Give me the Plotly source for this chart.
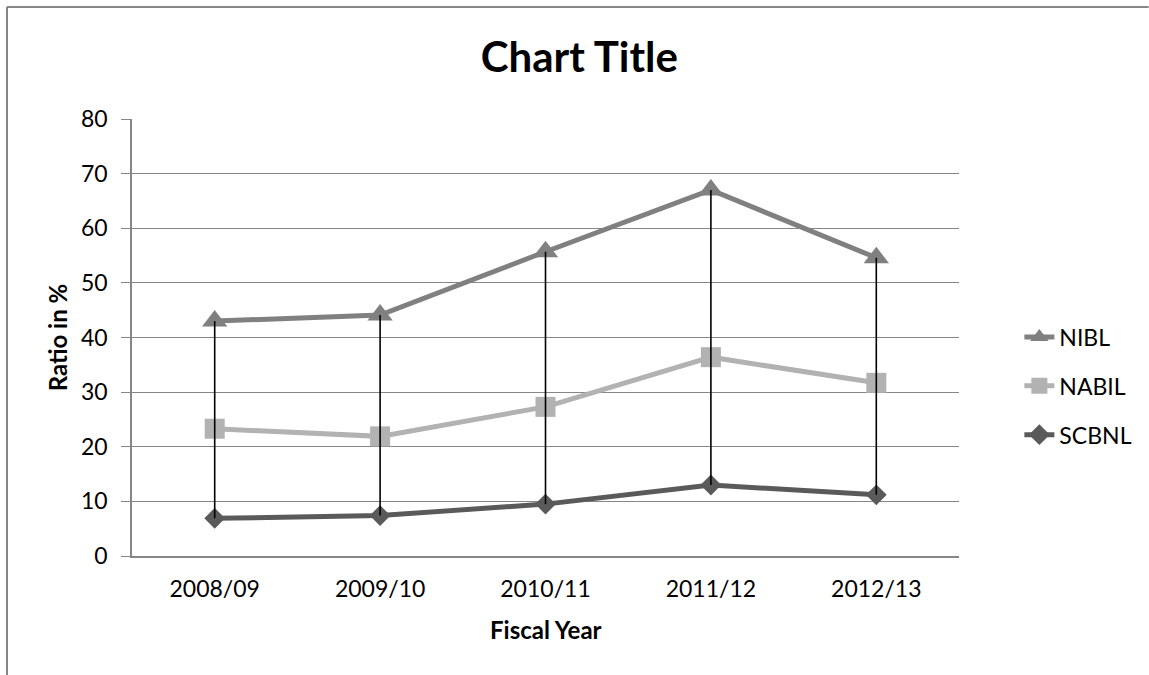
import plotly.graph_objects as go

years = ["2008/09", "2009/10", "2010/11", "2011/12", "2012/13"]
nibl = [43.0, 44.1, 55.7, 67.0, 54.6]
nabil = [23.3, 21.9, 27.3, 36.4, 31.7]
scbnl = [6.9, 7.4, 9.5, 13.0, 11.2]

W, H = 1149, 675
L, R, T, B = 131.7, 963.3, 118.7, 556.3
pw, ph = R - L, B - T
FONT = "Lato"
GRID = "#868686"

def px_x(x):
    return (x - L) / pw

def px_y(y):
    return (B - y) / ph

fig = go.Figure()

series = [
    ("NIBL", nibl, "#808080", "triangle-up", 22),
    ("NABIL", nabil, "#b2b2b2", "square", 20),
    ("SCBNL", scbnl, "#5a5a5a", "diamond", 16),
]
for name, vals, col, sym, sz in series:
    fig.add_trace(go.Scatter(
        x=years, y=vals, name=name, legendgroup=name,
        mode="lines+markers",
        line=dict(color=col, width=5),
        marker=dict(symbol=sym, size=sz, color=col, line=dict(width=0)),
    ))

# high-low lines
hx, hy = [], []
for i, yr in enumerate(years):
    hx += [yr, yr, None]
    hy += [nibl[i], scbnl[i], None]
fig.add_trace(go.Scatter(x=hx, y=hy, mode="lines", showlegend=False,
                         line=dict(color="black", width=1.6), hoverinfo="skip"))

fig.update_layout(
    width=W, height=H,
    margin=dict(l=L, r=W - R, t=T, b=H - B, pad=0),
    paper_bgcolor="white", plot_bgcolor="white",
    font=dict(family=FONT, color="black", size=23),
    title=dict(text="<b>Chart Title</b>", x=px_x(581.5), xref="paper",
               xanchor="center", y=1 - 57 / H, yref="container", yanchor="middle",
               font=dict(family=FONT, size=42, color="black")),
    showlegend=True,
    legend=dict(x=px_x(1024), xanchor="left", y=px_y(386), yanchor="middle",
                font=dict(family=FONT, size=23, color="black"),
                tracegroupgap=16, bgcolor="rgba(0,0,0,0)", itemwidth=30),
)

fig.update_xaxes(
    type="category", range=[-0.5, 4.5], showline=True, linecolor=GRID, linewidth=1.5,
    showgrid=False, ticks="", ticklabelstandoff=12,
    tickfont=dict(family=FONT, size=23, color="black"),
    zeroline=False, fixedrange=True,
)
fig.update_yaxes(
    range=[0, 80], dtick=10, tick0=0, showline=True, linecolor=GRID, linewidth=1.5,
    showgrid=True, gridcolor=GRID, gridwidth=1.3, ticks="outside", ticklen=9,
    tickcolor=GRID, tickwidth=1.3, ticklabelstandoff=9,
    tickfont=dict(family=FONT, size=23, color="black"), zeroline=False, fixedrange=True,
)

# axis titles
fig.add_annotation(text="<b>Ratio in %</b>", textangle=-90, xref="paper", yref="paper",
                   x=px_x(57), y=px_y(337.5), xanchor="center", yanchor="middle",
                   showarrow=False, font=dict(family=FONT, size=24, color="black"))
fig.add_annotation(text="<b>Fiscal Year</b>", xref="paper", yref="paper",
                   x=0.5, y=px_y(630), xanchor="center", yanchor="middle",
                   showarrow=False, font=dict(family=FONT, size=24, color="black"))

# chart area border (top and left visible)
bx0, by0 = px_x(6), px_y(6.5)
fig.add_shape(type="line", xref="paper", yref="paper", x0=bx0, y0=by0, x1=px_x(W + 5), y1=by0,
              line=dict(color=GRID, width=2))
fig.add_shape(type="line", xref="paper", yref="paper", x0=bx0, y0=by0, x1=bx0, y1=px_y(H + 5),
              line=dict(color=GRID, width=2))

fig.write_html("out.html")
